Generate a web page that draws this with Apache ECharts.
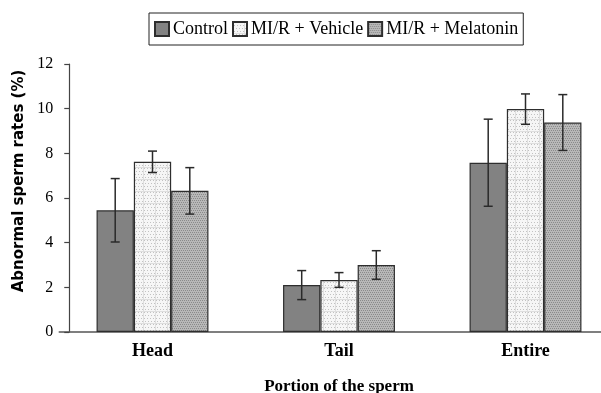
<!DOCTYPE html>
<html>
<head>
<meta charset="utf-8">
<script src="https://cdn.jsdelivr.net/npm/echarts@6/dist/echarts.min.js"></script>
<style>
html,body{margin:0;padding:0;background:#fff;}
#chart{width:601px;height:393px;}
</style>
</head>
<body>
<div id="chart"></div>
<script>
const categories = ['Head', 'Tail', 'Entire'];
const seriesNames = ['Control', 'MI/R + Vehicle', 'MI/R + Melatonin'];
const controlMean = [5.45, 2.1, 7.58];
const controlErr = [1.42, 0.65, 1.95];
const vehicleMean = [7.62, 2.33, 9.98];
const vehicleErr = [0.48, 0.33, 0.68];
const melatoninMean = [6.32, 3.0, 9.38];
const melatoninErr = [1.04, 0.64, 1.25];
const yTicks = [0, 2, 4, 6, 8, 10, 12];

function makePattern(bg, dot, step, line) {
  const c = document.createElement('canvas');
  c.width = 12; c.height = 12;
  const g = c.getContext('2d');
  g.fillStyle = bg; g.fillRect(0, 0, 12, 12);
  g.fillStyle = dot;
  for (let y = 0; y < 12; y += step) {
    for (let x = (y / step) % 2; x < 12; x += step) g.fillRect(x, y, 1, 1);
  }
  if (line) {
    g.fillStyle = line;
    g.fillRect(0, 11, 12, 1);
    g.fillRect(11, 0, 1, 12);
  }
  return c;
}
const vehiclePat = makePattern('#f6f6f6', '#c2c2c2', 3, '#dedede');
const melatoninPat = makePattern('#b8b8b8', '#8a8a8a', 2, null);

const fills = ['#828282', {image: vehiclePat, repeat: 'repeat'}, {image: melatoninPat, repeat: 'repeat'}];
const means = [controlMean, vehicleMean, melatoninMean];
const errs = [controlErr, vehicleErr, melatoninErr];
const BAR_W = 37.3;

const series = [];
seriesNames.forEach((n, i) => {
  series.push({
    name: n, type: 'bar', data: means[i], barWidth: BAR_W, barGap: '0%',
    itemStyle: {color: fills[i], borderColor: '#2e2e2e', borderWidth: 1.2}
  });
});
seriesNames.forEach((n, i) => {
  const off = (i - 1) * BAR_W;
  series.push({
    type: 'custom', name: n + ' err', z: 10, silent: true,
    data: categories.map((c, k) => [k, means[i][k] - errs[i][k], means[i][k] + errs[i][k]]),
    renderItem: function (params, api) {
      const lo = api.coord([api.value(0), api.value(1)]);
      const hi = api.coord([api.value(0), api.value(2)]);
      const x = lo[0] + off;
      const cw = 4.5;
      const st = {stroke: '#2a2a2a', lineWidth: 1.5};
      return {type: 'group', children: [
        {type: 'line', shape: {x1: x, y1: hi[1], x2: x, y2: lo[1]}, style: st},
        {type: 'line', shape: {x1: x - cw, y1: hi[1], x2: x + cw, y2: hi[1]}, style: st},
        {type: 'line', shape: {x1: x - cw, y1: lo[1], x2: x + cw, y2: lo[1]}, style: st}
      ]};
    }
  });
});

const chart = echarts.init(document.getElementById('chart'), null, {renderer: 'canvas'});
chart.setOption({
  animation: false,
  backgroundColor: '#fff',
  legend: {
    data: seriesNames, top: 13, left: 149,
    borderColor: '#222', borderWidth: 1, padding: [7, 5],
    itemWidth: 14, itemHeight: 14, itemGap: 4,
    icon: 'rect',
    textStyle: {fontFamily: 'Liberation Serif', fontSize: 18, color: '#000', padding: [0, 0, 0, -1]}
  },
  grid: {left: 59.25, width: 559.5, top: 64, bottom: 61, outerBoundsMode: 'none', containLabel: false},
  xAxis: {
    type: 'category', data: categories,
    name: 'Portion of the sperm', nameLocation: 'middle', nameGap: 46,
    nameTextStyle: {fontFamily: 'Liberation Serif', fontSize: 17, fontWeight: 'bold', color: '#000'},
    axisLine: {lineStyle: {color: '#555', width: 1.5}},
    axisTick: {show: false},
    axisLabel: {fontFamily: 'Liberation Serif', fontSize: 18, fontWeight: 'bold', color: '#000', margin: 10}
  },
  yAxis: {
    type: 'value', min: yTicks[0], max: yTicks[yTicks.length - 1], interval: 2, offset: -10,
    name: 'Abnormal sperm rates (%)', nameLocation: 'middle', nameGap: 40,
    nameTextStyle: {fontFamily: 'DejaVu Sans', fontSize: 15, fontWeight: 'bold', color: '#000', padding: [0, 0, 0, 34]},
    axisLine: {show: true, lineStyle: {color: '#444', width: 1.2}},
    axisTick: {show: true, length: 5, lineStyle: {color: '#444', width: 1.2}},
    splitLine: {show: false},
    axisLabel: {fontFamily: 'Liberation Serif', fontSize: 16, color: '#000', margin: 16}
  },
  series: series
});
</script>
</body>
</html>
